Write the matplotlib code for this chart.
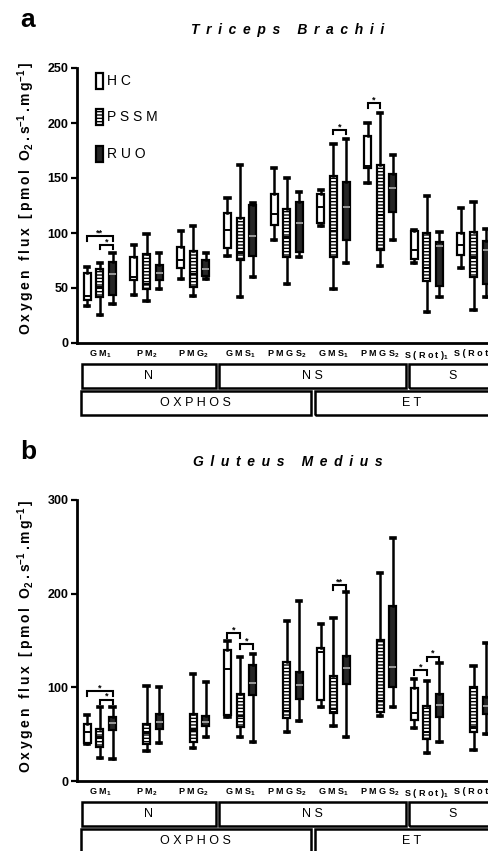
import numpy as np
import matplotlib
matplotlib.use("Agg")
from matplotlib import pyplot as plt
from matplotlib.patches import Rectangle
from matplotlib import transforms

plt.rcParams['font.family'] = ['Liberation Sans', 'DejaVu Sans']
plt.rcParams['mathtext.fontset'] = 'custom'
plt.rcParams['mathtext.rm'] = 'Liberation Sans'
plt.rcParams['mathtext.bf'] = 'Liberation Sans:bold'
plt.rcParams['mathtext.it'] = 'Liberation Sans:italic'
plt.rcParams['hatch.linewidth'] = 1.0

# ---- data ----
groups = ['GM$_{\\mathbf{1}}$', 'PM$_{\\mathbf{2}}$', 'PMG$_{\\mathbf{2}}$', 'GMS$_{\\mathbf{1}}$',
          'PMGS$_{\\mathbf{2}}$', 'GMS$_{\\mathbf{1}}$', 'PMGS$_{\\mathbf{2}}$',
          'S(Rot)$_{\\mathbf{1}}$', 'S(Rot)']
series = ['HC', 'PSSM', 'RUO']

# [whislo, q1, median, q3, whishi]
tri_hc = [[33.6, 39, 42.7, 63.3, 68.8], [43.6, 57, 60, 78, 89], [58, 68, 75.5, 87, 102],
          [79, 86, 103, 118, 131.5], [93.6, 107, 117, 135, 159], [106, 109, 124, 135.5, 139],
          [145, 159, 161, 188, 200], [72.4, 76, 84.5, 102, 102.7], [68, 80, 89, 99.7, 123]]
tri_pssm = [[25, 42, 51, 67, 72.4], [38, 49, 54, 81, 99], [42.7, 51, 63, 83.6, 106],
            [42, 75.5, 82, 114, 162], [54, 78, 96.6, 122, 150], [49, 78.5, 102, 152, 180.6],
            [70, 84.5, 116, 162, 209], [28.5, 56.6, 68, 99.7, 134], [30, 60, 78.5, 101, 128]]
tri_ruo = [[35, 43.6, 63, 74, 82], [49, 57, 63.5, 71, 82], [58.5, 61, 67, 75.5, 82],
           [60, 79, 97, 125, 127.5], [78.5, 83, 109, 128.5, 137], [73, 93.6, 124, 146.7, 185.5],
           [93.6, 119, 140.6, 154, 170.6], [42, 51.8, 88, 92, 100.6], [42, 54, 84.5, 92.7, 103.6]]
# (group, series_a, series_b, level, label)
tri_sig = [(0, 0, 2, 97, '**'), (0, 1, 2, 89, '*'), (5, 1, 2, 193.6, '*'), (6, 0, 1, 218, '*')]

glu_hc = [[39, 41, 52.6, 60.8, 70.4], None, None, [68.6, 70.4, 120, 139.8, 149.7], None,
          [78.6, 86.4, 138, 142, 167.6], None, [57, 65, 72.6, 99, 108.8], None]
glu_pssm = [[25, 36, 46.6, 56, 78.6], [32, 40, 51, 60.8, 101.7], [35, 42, 54.4, 71.5, 114],
            [47, 58, 69.4, 92.8, 132.7], [52, 67, 75, 127, 171], [58.7, 73, 76.5, 112, 174],
            [69.4, 74, 85.4, 150.5, 221.6], [29.6, 44.5, 52, 80, 107], [33, 52.6, 58, 100.6, 122.7]]
glu_ruo = [[23.5, 54.4, 62, 68.6, 79.3], [41, 55.5, 63, 71.5, 100], [46.6, 58.7, 63, 69.4, 106],
           [42, 91.8, 105, 123.8, 136], [64, 88, 102.5, 116, 192.4], [47, 104, 121, 133.7, 202],
           [79.3, 100.6, 122, 186.8, 259], [42, 68.6, 81, 92.5, 125.6], [50, 72, 80, 90, 147]]
glu_sig = [(0, 0, 2, 96, '*'), (0, 1, 2, 87, '*'), (3, 0, 1, 157.6, '*'), (3, 1, 2, 146, '*'),
           (5, 1, 2, 209, '**'), (7, 0, 1, 118.5, '*'), (7, 1, 2, 132.7, '*')]

row1 = [('N', -0.39, 2.49), ('NS', 2.55, 6.55), ('S', 6.62, 8.5)]
row2 = [('OXPHOS', -0.41, 4.52), ('ET', 4.6, 8.76)]

W, H = 489, 851
fig = plt.figure(figsize=(W / 100, H / 100), dpi=100)


def sp(s, gap=' '):
    return gap.join(s)


offsets = [-0.27, 0.0, 0.27]
styles = [dict(fc='white', hatch=None, med='black'),
          dict(fc='white', hatch='-----', med='black'),
          dict(fc='#262626', hatch=None, med='#9a9a9a')]


def panel(top, bottom, ymax, hc, pssm, ruo, sig, letter, title, ylab_y):
    ax = fig.add_axes([77 / W, 1 - bottom / H, (W - 77) / W, (bottom - top) / H])
    ax_h = bottom - top
    for k, data in enumerate([hc, pssm, ruo]):
        stats, pos = [], []
        for g, v in enumerate(data):
            if v is None:
                continue
            stats.append(dict(whislo=v[0], q1=v[1], med=v[2], q3=v[3], whishi=v[4]))
            pos.append(g + offsets[k])
        st = styles[k]
        bp = ax.bxp(stats, positions=pos, widths=0.15, patch_artist=True, showfliers=False,
                    capwidths=0.09,
                    boxprops=dict(facecolor=st['fc'], edgecolor='black', linewidth=1.6),
                    medianprops=dict(color=st['med'], linewidth=1.4),
                    whiskerprops=dict(color='black', linewidth=1.8),
                    capprops=dict(color='black', linewidth=2.6))
        if st['hatch']:
            for b in bp['boxes']:
                b.set_hatch(st['hatch'])

    for g, i, j, lev, lab in sig:
        x1, x2 = g + offsets[i], g + offsets[j]
        d = ymax * 0.016
        ax.plot([x1, x1, x2, x2], [lev - d, lev, lev, lev - d], color='black', lw=1.5,
                solid_joinstyle='miter')
        ax.text((x1 + x2) / 2, lev - ymax * 0.004, lab, ha='center', va='bottom', fontsize=6.5,
                fontweight='bold')

    ax.set_xlim(-0.49, 8.33)
    ax.set_ylim(0, ymax)
    ax.set_yticks(np.arange(0, ymax + 1, 50 if ymax == 250 else 100))
    ax.spines['top'].set_visible(False)
    ax.spines['right'].set_visible(False)
    ax.spines['left'].set_linewidth(2)
    ax.spines['bottom'].set_linewidth(2)
    ax.tick_params(axis='y', length=4, width=1.6, labelsize=9, pad=2)
    for t in ax.get_yticklabels():
        t.set_fontweight('bold')
    ax.set_xticks(range(len(groups)))
    ax.set_xticklabels([sp(l.split('$')[0]) + ('$' + l.split('$', 1)[1] if '$' in l else '')
                        for l in groups], fontsize=6.5, fontweight='bold')
    ax.tick_params(axis='x', length=0, pad=4)

    tr = transforms.blended_transform_factory(ax.transData, ax.transAxes)
    for rows, (t0, t1) in [(row1, (21, 45)), (row2, (48, 72))]:
        for lab, x0, x1 in rows:
            ax.add_patch(Rectangle((x0, -t1 / ax_h), x1 - x0, (t1 - t0) / ax_h, transform=tr,
                                   fill=False, edgecolor='black', lw=1.8, clip_on=False))
            ax.text((x0 + x1) / 2, -(t0 + t1) / 2 / ax_h, sp(lab), transform=tr, ha='center',
                    va='center', fontsize=9, clip_on=False)

    fig.text(20 / W, 1 - (top - 48) / H, letter, fontsize=19, fontweight='bold', va='center')
    fig.text(288 / W, 1 - (top - 38) / H, sp(title, ' \u2009'), fontsize=10, fontweight='bold',
             style='italic', ha='center', va='center')
    ylab = sp('Oxygen flux [pmol O', '\u2009') + r'$_{\mathbf{2}}$' + '\u2009.\u2009s' + \
        r'$^{\mathbf{-1}}$' + '\u2009.\u2009m\u2009g' + r'$^{\mathbf{-1}}$' + '\u2009]'
    fig.text(26 / W, 1 - ylab_y / H, ylab, rotation=90, fontsize=10, fontweight='bold',
             ha='center', va='center')
    return ax


ax_a = panel(68, 343, 250, tri_hc, tri_pssm, tri_ruo, tri_sig, 'a', 'Triceps Brachii', 198)
ax_b = panel(500, 781, 300, glu_hc, glu_pssm, glu_ruo, glu_sig, 'b', 'Gluteus Medius', 636)

# legend drawn by hand in panel a
leg_y = [81, 117, 154]
for k, name in enumerate(series):
    yc = (343 - leg_y[k]) / 275
    st = styles[k]
    ax_a.add_patch(Rectangle(((96 - 77) / 412, yc - 8 / 275), 7 / 412, 16 / 275,
                             transform=ax_a.transAxes, facecolor=st['fc'], edgecolor='black',
                             lw=1.6, hatch=st['hatch']))
    ax_a.text((107 - 77) / 412, yc, sp(name), transform=ax_a.transAxes, fontsize=10,
              va='center', ha='left')

fig.savefig('out.png', dpi=100)
